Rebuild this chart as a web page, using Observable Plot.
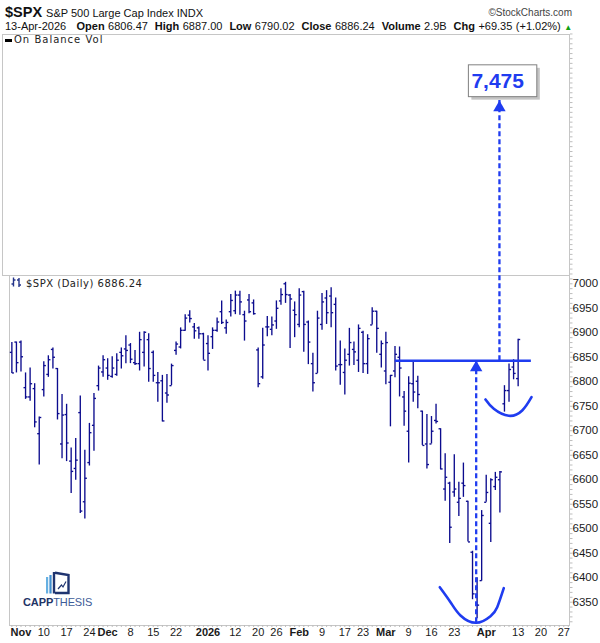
<!DOCTYPE html>
<html>
<head>
<meta charset="utf-8">
<script src="https://cdn.jsdelivr.net/npm/d3@7"></script>
<script src="https://cdn.jsdelivr.net/npm/@observablehq/plot@0.6"></script>
<style>
  html, body { margin: 0; padding: 0; background: #fff; }
  #wrap { position: relative; width: 600px; height: 643px; overflow: hidden; font-family: "Liberation Sans", Arial, sans-serif; color: #111; }
  .abs { position: absolute; white-space: nowrap; }
  #hdr1 { left: 5px; top: 5px; font-size: 14.5px; font-weight: bold; line-height: 14px; }
  #hdr1 span { font-size: 11px; font-weight: normal; }
  #copy { right: 28px; top: 8px; font-size: 10px; line-height: 10px; color: #444; }
  #hdr2 { left: 5px; top: 21px; font-size: 11px; line-height: 11px; word-spacing: 0.4px; }
  #hdr2 b { font-weight: bold; }
  #panelTop { left: 2px; top: 34px; width: 568px; height: 242px; box-sizing: border-box; border: 1px solid #c6c6c6; }
  #panelMain { left: 9px; top: 275px; width: 561px; height: 351px; box-sizing: border-box; border: 1px solid #c6c6c6; }
  #obv { left: 14px; top: 35px; font-family: "DejaVu Sans", Verdana, sans-serif; font-size: 10px; line-height: 10px; letter-spacing: 1px; color: #222; }
  #obvDash { left: 5px; top: 39px; width: 7px; height: 3px; background: #000; }
  #spxLbl { left: 26px; top: 279px; font-family: "DejaVu Sans", Verdana, sans-serif; font-size: 10px; line-height: 10px; letter-spacing: 0.5px; color: #222; }
  #chart { position: absolute; left: 0; top: 0; }
</style>
</head>
<body>
<div id="wrap">
  <div class="abs" id="panelTop"></div>
  <div class="abs" id="panelMain"></div>
  <div class="abs" id="hdr1">$SPX <span>S&amp;P 500 Large Cap Index INDX</span></div>
  <div class="abs" id="copy">©StockCharts.com</div>
  <div class="abs" id="hdr2">13-Apr-2026&nbsp;&nbsp; <b>Open</b> 6806.47&nbsp; <b>High</b> 6887.00&nbsp; <b>Low</b> 6790.02&nbsp; <b>Close</b> 6886.24&nbsp; <b>Volume</b> 2.9B&nbsp; <b>Chg</b> +69.35 (+1.02%) <span style="color:#10a010;font-size:8px">▲</span></div>
  <div class="abs" id="obvDash"></div>
  <div class="abs" id="obv">On Balance Vol</div>
  <svg class="abs" style="left:11px;top:277px" width="12" height="11">
    <path d="M2.5 0.5V9.5M0.5 7H2.5M2.5 3H4.5M8 1V10M6 3H8M8 8H10" stroke="#24348a" stroke-width="1.4" fill="none"/>
  </svg>
  <div class="abs" id="spxLbl">$SPX (Daily) 6886.24</div>
  <svg class="abs" style="left:20px;top:566px" width="80" height="45">
    <rect x="26" y="11" width="2.2" height="16.5" fill="#66b0e2"/>
    <rect x="29.4" y="9" width="2.2" height="18.5" fill="#3f8ed0"/>
    <rect x="32.8" y="6" width="2.4" height="21.5" fill="#1f3470"/>
    <path d="M35 6.8 L48.5 9 L48.5 27 L35 27" fill="none" stroke="#1f3470" stroke-width="2.4"/>
    <path d="M38 23 L41.5 19 L43 21 L46 15.5" fill="none" stroke="#1f3470" stroke-width="1.2"/>
    <text x="3" y="40" font-family="Liberation Sans, Arial, sans-serif" font-size="11" letter-spacing="-0.1"><tspan fill="#1f3466" font-weight="bold">CAPP</tspan><tspan fill="#3d5c98">THESIS</tspan></text>
  </svg>
  <div id="chart"></div>
</div>
<script>
// ---- price data (daily bars) ----
const dates = [
"2025-10-30","2025-10-31","2025-11-03","2025-11-04","2025-11-05","2025-11-06","2025-11-07","2025-11-10","2025-11-11","2025-11-12",
"2025-11-13","2025-11-14","2025-11-17","2025-11-18","2025-11-19","2025-11-20","2025-11-21","2025-11-24","2025-11-25","2025-11-26",
"2025-11-28","2025-12-01","2025-12-02","2025-12-03","2025-12-04","2025-12-05","2025-12-08","2025-12-09","2025-12-10","2025-12-11",
"2025-12-12","2025-12-15","2025-12-16","2025-12-17","2025-12-18","2025-12-19","2025-12-22","2025-12-23","2025-12-24","2025-12-26",
"2025-12-29","2025-12-30","2025-12-31","2026-01-02","2026-01-05","2026-01-06","2026-01-07","2026-01-08","2026-01-09","2026-01-12",
"2026-01-13","2026-01-14","2026-01-15","2026-01-16","2026-01-20","2026-01-21","2026-01-22","2026-01-23","2026-01-26","2026-01-27",
"2026-01-28","2026-01-29","2026-01-30","2026-02-02","2026-02-03","2026-02-04","2026-02-05","2026-02-06","2026-02-09","2026-02-10",
"2026-02-11","2026-02-12","2026-02-13","2026-02-17","2026-02-18","2026-02-19","2026-02-20","2026-02-23","2026-02-24","2026-02-25",
"2026-02-26","2026-02-27","2026-03-02","2026-03-03","2026-03-04","2026-03-05","2026-03-06","2026-03-09","2026-03-10","2026-03-11",
"2026-03-12","2026-03-13","2026-03-16","2026-03-17","2026-03-18","2026-03-19","2026-03-20","2026-03-23","2026-03-24","2026-03-25",
"2026-03-26","2026-03-27","2026-03-30","2026-03-31","2026-04-01","2026-04-02","2026-04-06","2026-04-07","2026-04-08","2026-04-09",
"2026-04-10","2026-04-13"];
const opens = [
6860,6881,6881,6788,6769,6786,6694,6784,6815,6866,
6827,6673,6733,6638,6623,6737,6555,6635,6711,6792,
6820,6828,6811,6815,6860,6867,6875,6839,6837,6860,
6886,6860,6798,6802,6777,6792,6864,6871,6905,6936,
6912,6910,6898,6878,6892,6905,6943,6910,6943,6945,
6977,6937,6967,6961,6865,6810,6912,6907,6924,6965,
7000,6977,6946,6917,6984,6922,6837,6817,6917,6971,
6975,6958,6835,6819,6856,6866,6844,6901,6837,6916,
6944,6856,6822,6799,6822,6850,6769,6699,6796,6801,
6740,6673,6673,6721,6704,6581,6593,6575,6554,6593,
6556,6452,6380,6394,6554,6511,6586,6600,6755,6782,
6830,6806.47];
const highs = [
6880,6881,6883,6818,6828,6796,6728,6841,6853,6869,
6827,6774,6754,6665,6684,6771,6660,6715,6776,6832,
6853,6847,6851,6857,6869,6894,6878,6864,6901,6902,
6898,6863,6819,6813,6815,6836,6881,6910,6937,6945,
6919,6912,6899,6894,6910,6930,6965,6926,6978,6985,
6985,6944,6978,6967,6869,6909,6933,6932,6965,6990,
7003,6978,6963,6990,6985,6924,6858,6944,6980,6986,
6992,6971,6883,6867,6909,6881,6916,6903,6896,6951,
6944,6883,6901,6813,6872,6871,6780,6810,6842,6811,
6740,6733,6729,6754,6704,6653,6595,6651,6595,6634,
6556,6454,6400,6537,6609,6602,6615,6617,6792,6836,
6845,6887.00];
const lows = [
6817,6818,6820,6764,6760,6706,6630,6769,6809,6826,
6722,6643,6637,6572,6599,6531,6520,6628,6658,6781,
6809,6803,6807,6811,6826,6837,6837,6833,6822,6830,
6799,6799,6758,6718,6756,6792,6854,6867,6903,6920,
6887,6887,6844,6822,6866,6901,6917,6897,6932,6937,
6936,6883,6939,6936,6788,6805,6892,6894,6907,6956,
6960,6868,6890,6910,6860,6835,6779,6817,6905,6917,
6910,6822,6793,6773,6832,6833,6819,6817,6815,6916,
6858,6828,6794,6708,6808,6769,6709,6634,6758,6745,
6670,6622,6673,6714,6620,6556,6470,6564,6525,6564,
6473,6355,6316,6393,6554,6472,6578,6532,6738,6758,
6804,6790.02];
const closes = [
6818,6839,6851,6769,6796,6718,6727,6833,6845,6850,
6735,6732,6675,6617,6640,6536,6603,6696,6766,6828,
6845,6813,6828,6844,6853,6864,6846,6837,6886,6901,
6827,6813,6798,6720,6773,6833,6877,6905,6930,6929,
6904,6898,6844,6858,6905,6922,6921,6921,6966,6977,
6963,6924,6943,6939,6796,6875,6912,6916,6950,6978,
6978,6969,6937,6977,6917,6881,6798,6930,6963,6941,
6941,6832,6835,6844,6880,6861,6909,6837,6888,6944,
6909,6878,6880,6813,6856,6828,6740,6797,6779,6774,
6670,6631,6699,6719,6622,6605,6503,6581,6562,6588,
6473,6367,6344,6527,6574,6600,6605,6616,6782,6825,
6817,6886.24];

// ---- axis labels ----
const tickDates  = ["2025-11-03","2025-11-10","2025-11-17","2025-11-24","2025-12-01","2025-12-08","2025-12-15","2025-12-22",
                    "2026-01-02","2026-01-12","2026-01-20","2026-01-26","2026-02-02","2026-02-09","2026-02-17","2026-02-23",
                    "2026-03-02","2026-03-09","2026-03-16","2026-03-23","2026-04-01","2026-04-13","2026-04-20","2026-04-27"];
const tickLabels = ["Nov","10","17","24","Dec","8","15","22",
                    "2026","12","20","26","Feb","9","17","23",
                    "Mar","9","16","23","Apr","13","20","27"];
const yTicks = [6350,6400,6450,6500,6550,6600,6650,6700,6750,6800,6850,6900,6950,7000];

// ---- annotations (price / trading-day units) ----
const necklineValue = 6843;
const necklineSpan = [84.1, 113.9];
const targetValue = 7475;
const lowArrow = {k: 101.8, from: 6308, to: 6843};
const highArrow = {k: 106.9, from: 6843, to: 7374};
const targetBox = {x1: 100.2, x2: 115.2, y1: 7381, y2: 7446, tx: 100.75, ty: 7414};
const bottomCurve = [
  {k: 93.82, v: 6380.6}, {k: 96.17, v: 6350}, {k: 98.36, v: 6322.8}, {k: 101.8, v: 6307.9},
  {k: 104.94, v: 6321.4}, {k: 106.41, v: 6339.8}, {k: 107.85, v: 6378.6}];
const upperCurve = [
  {k: 103.84, v: 6763.8}, {k: 105.66, v: 6744.8}, {k: 108.95, v: 6730.5}, {k: 111.89, v: 6741.3}, {k: 113.93, v: 6768.5}];

// ---- build ----
const barColor = "#0c0c8e";
const annColor = "#1f3cf0";
const rows = dates.map((d, k) => ({k, o: opens[k], h: highs[k], l: lows[k], c: closes[k]}));
const fmt = d3.utcFormat("%Y-%m-%d");
const last = new Date(dates[dates.length - 1] + "T00:00:00Z");
const future = d3.utcDay.range(d3.utcDay.offset(last, 1), d3.utcDay.offset(last, 16))
  .filter(d => d.getUTCDay() % 6 !== 0).map(fmt);
const calendar = dates.concat(future);
const tickPos = tickDates.map(d => calendar.indexOf(d));
const labelAt = new Map(tickPos.map((p, j) => [p, tickLabels[j]]));
const TICK = 0.45;
const fmtTarget = d3.format(",");

const chart = Plot.plot({
  width: 600, height: 643,
  marginTop: 32, marginBottom: 18, marginLeft: 10, marginRight: 31,
  x: {type: "linear", domain: [-0.3, 122.26], label: null},
  y: {domain: [6302.4, 7513], label: null},
  style: {background: "transparent", fontFamily: "Liberation Sans, Arial, sans-serif", fontSize: "12px", color: "#1a1a1a"},
  marks: [
    Plot.axisY({anchor: "right", ticks: d3.range(6310, 7511, 10), tickSize: 2.5, tickFormat: () => "", stroke: "#bdbdbd", label: null}),
    Plot.axisX({ticks: d3.range(0, calendar.length), tickSize: 2, tickFormat: () => "", stroke: "#bdbdbd", label: null}),
    Plot.axisY({anchor: "right", ticks: yTicks, tickSize: 0, tickPadding: 3, tickFormat: d3.format("d"), fontSize: 11.5, label: null}),
    Plot.axisX({ticks: tickPos, tickFormat: p => labelAt.get(p), tickSize: 0, tickPadding: 3, fontSize: 11, label: null}),
    // OHLC bars
    Plot.ruleX(rows, {x: "k", y1: "l", y2: "h", stroke: barColor, strokeWidth: 1.35}),
    Plot.link(rows, {x1: d => d.k - TICK, x2: "k", y1: "o", y2: "o", stroke: barColor, strokeWidth: 1.35}),
    Plot.link(rows, {x1: "k", x2: d => d.k + TICK, y1: "c", y2: "c", stroke: barColor, strokeWidth: 1.35}),
    // annotations
    Plot.ruleY([necklineValue], {x1: necklineSpan[0], x2: necklineSpan[1], stroke: annColor, strokeWidth: 2.6}),
    Plot.ruleX([lowArrow], {x: "k", y1: "from", y2: "to", stroke: annColor, strokeWidth: 2.3, strokeDasharray: "5,3"}),
    Plot.ruleX([highArrow], {x: "k", y1: "from", y2: "to", stroke: annColor, strokeWidth: 2.3, strokeDasharray: "5,3"}),
    Plot.dot([lowArrow], {x: "k", y: "to", symbol: "triangle", r: 4.6, fill: annColor, stroke: null, dy: 7}),
    Plot.dot([highArrow], {x: "k", y: "to", symbol: "triangle", r: 4.6, fill: annColor, stroke: null, dy: 7}),
    Plot.line(bottomCurve, {x: "k", y: "v", curve: "natural", stroke: annColor, strokeWidth: 2.6}),
    Plot.line(upperCurve, {x: "k", y: "v", curve: "natural", stroke: annColor, strokeWidth: 2.6}),
    Plot.rect([targetBox], {x1: "x1", x2: "x2", y1: "y1", y2: "y2", fill: "#c4c4c4", dx: 3, dy: 3}),
    Plot.rect([targetBox], {x1: "x1", x2: "x2", y1: "y1", y2: "y2", fill: "#fff", stroke: "#808080", strokeWidth: 1}),
    Plot.text([targetBox], {x: "tx", y: "ty", text: () => fmtTarget(targetValue), fill: annColor, fontSize: 21, fontWeight: "bold", textAnchor: "start", fontFamily: "Liberation Sans, Arial, sans-serif"})
  ]
});
d3.select(chart).selectAll('g[aria-label="x-axis tick label"] text').each(function () {
  const t = this.textContent.trim();
  if (isNaN(+t) || t === "2026") this.setAttribute("font-weight", "bold");
});
document.getElementById("chart").append(chart);
</script>
</body>
</html>
